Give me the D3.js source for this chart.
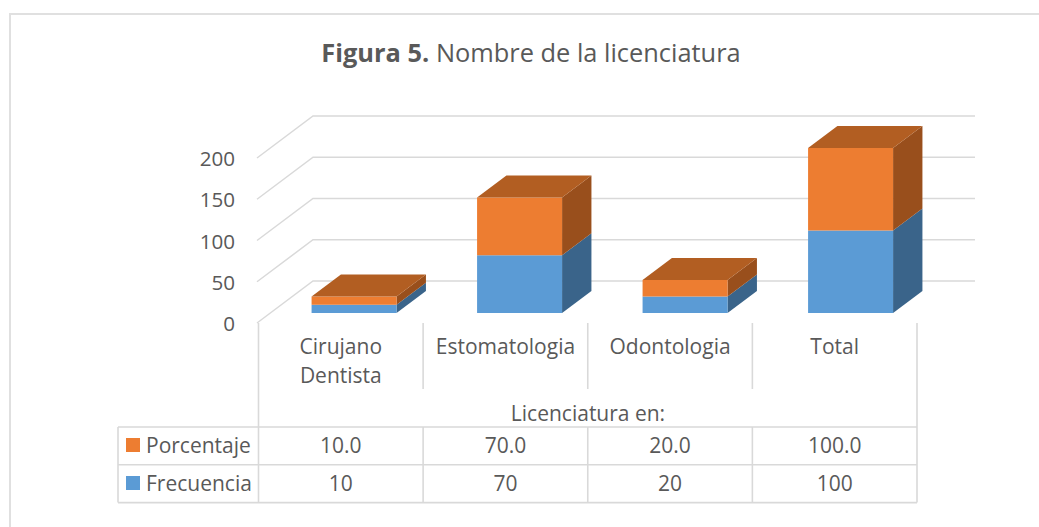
<!DOCTYPE html>
<html>
<head>
<meta charset="utf-8">
<script src="https://cdn.jsdelivr.net/npm/d3@7"></script>
<style>
body { margin: 0; background: #fff; }
text { font-family: "Open Sans", "Lato", sans-serif; fill: #595959; }
</style>
</head>
<body>
<div id="chart"></div>
<script>
var categories = ["Cirujano Dentista", "Estomatologia", "Odontologia", "Total"];
var categoryLines = [["Cirujano", "Dentista"], ["Estomatologia"], ["Odontologia"], ["Total"]];
var frecuencia = [10, 70, 20, 100];
var porcentaje = [10.0, 70.0, 20.0, 100.0];
var yTicks = [0, 50, 100, 150, 200];

var colors = {
    Frecuencia: { front: "#5b9bd5", side: "#3a648a" },
    Porcentaje: { front: "#ed7d31", top: "#b25e22", side: "#994f1c" },
};

var width = 1039,
    height = 527;
var labelSize = "21px";

var svg = d3
    .select("#chart")
    .append("svg")
    .style("display", "block")
    .attr("width", width)
    .attr("height", height);

// chart border, cut off by the screenshot on the right and bottom
svg.append("path")
    .attr("fill", "none")
    .attr("stroke", "#e0e0e0")
    .attr("stroke-width", 2)
    .attr("d", d3.line()([[10, height], [10, 14], [width, 14]]));

svg.append("text")
    .attr("x", 531)
    .attr("y", 61.5)
    .attr("text-anchor", "middle")
    .style("font-size", "25.4px")
    .call((t) => {
        t.append("tspan").style("font-weight", "bold").text("Figura 5.");
        t.append("tspan").text(" Nombre de la licenciatura");
    });

// ticks and table use x, the boxes sit on a slightly wider band
var x = d3.scaleBand().domain(categories).range([258.5, 917]);
var barX = d3.scaleBand().domain(categories).range([258, 920]);
var y = d3.scaleLinear().domain([0, 200]).range([323, 158]);

// depth of the 3d floor, z runs 0 (front) to 1 (back)
var depthX = 56,
    depthY = -42;
var barZ0 = 0.238,
    barZ1 = 0.762;
var barWidth = 85;

function px(xValue, z) {
    return xValue + z * depthX;
}
function py(v, z) {
    return y(v) + z * depthY;
}

var gridColor = "#d9d9d9";

// walls
var grid = svg.append("g").attr("fill", "none").attr("stroke", gridColor).attr("stroke-width", 1.5);
yTicks.forEach((t) => {
    grid.append("path").attr(
        "d",
        d3.line()([
            [px(257, 0), py(t, 0)],
            [px(257, 1), py(t, 1)],
            [px(919, 1), py(t, 1)],
        ])
    );
});

svg.selectAll(".y-label")
    .data(yTicks)
    .enter()
    .append("text")
    .attr("class", "y-label")
    .attr("x", 235)
    .attr("y", (d) => y(d) + 8)
    .attr("text-anchor", "end")
    .style("font-size", "20.6px")
    .text((d) => d);

// stacked boxes
categories.forEach((c, i) => {
    var left = barX(c) + (barX.bandwidth() - barWidth) / 2;
    var right = left + barWidth;
    var stack = [
        { name: "Frecuencia", v0: 0, v1: frecuencia[i] },
        { name: "Porcentaje", v0: frecuencia[i], v1: frecuencia[i] + porcentaje[i] },
    ];
    stack.forEach((s) => {
        var col = colors[s.name];
        svg.append("path")
            .attr("fill", col.side)
            .attr(
                "d",
                d3.line()([
                    [px(right, barZ0), py(s.v0, barZ0)],
                    [px(right, barZ1), py(s.v0, barZ1)],
                    [px(right, barZ1), py(s.v1, barZ1)],
                    [px(right, barZ0), py(s.v1, barZ0)],
                ])
            );
        svg.append("rect")
            .attr("x", px(left, barZ0))
            .attr("y", py(s.v1, barZ0))
            .attr("width", right - left)
            .attr("height", py(s.v0, barZ0) - py(s.v1, barZ0))
            .attr("fill", col.front);
        if (s.name == "Porcentaje") {
            svg.append("path")
                .attr("fill", col.top)
                .attr(
                    "d",
                    d3.line()([
                        [px(left, barZ0), py(s.v1, barZ0)],
                        [px(left, barZ1), py(s.v1, barZ1)],
                        [px(right, barZ1), py(s.v1, barZ1)],
                        [px(right, barZ0), py(s.v1, barZ0)],
                    ])
                );
        }
    });
});

// data table under the chart
var tableLeft = 118,
    tableTop = 427,
    rowH = 37.8;
var lines = svg.append("g").attr("stroke", gridColor).attr("stroke-width", 1.6);
var edges = x.domain().map((c) => x(c)).concat([x.range()[1]]);
edges.forEach((e, i) => {
    lines.append("line").attr("x1", e).attr("x2", e).attr("y1", y(0)).attr("y2", i == 0 || i == 4 ? tableTop : 389);
    lines.append("line").attr("x1", e).attr("x2", e).attr("y1", tableTop).attr("y2", tableTop + 2 * rowH);
});
lines.append("line").attr("x1", tableLeft).attr("x2", tableLeft).attr("y1", tableTop).attr("y2", tableTop + 2 * rowH);
[0, 1, 2].forEach((r) => {
    lines.append("line")
        .attr("x1", tableLeft)
        .attr("x2", x.range()[1])
        .attr("y1", tableTop + r * rowH)
        .attr("y2", tableTop + r * rowH);
});

categories.forEach((c, i) => {
    var cx = x(c) + x.bandwidth() / 2;
    categoryLines[i].forEach((l, j) => {
        svg.append("text")
            .attr("x", cx)
            .attr("y", 354 + j * 29)
            .attr("text-anchor", "middle")
            .style("font-size", labelSize)
            .text(l);
    });
    svg.append("text")
        .attr("x", cx)
        .attr("y", 452.5)
        .attr("text-anchor", "middle")
        .style("font-size", labelSize)
        .text(porcentaje[i].toFixed(1));
    svg.append("text")
        .attr("x", cx)
        .attr("y", 490.5)
        .attr("text-anchor", "middle")
        .style("font-size", labelSize)
        .text(frecuencia[i]);
});

svg.append("text")
    .attr("x", 588)
    .attr("y", 421)
    .attr("text-anchor", "middle")
    .style("font-size", labelSize)
    .text("Licenciatura en:");

["Porcentaje", "Frecuencia"].forEach((name, r) => {
    svg.append("rect")
        .attr("x", 126)
        .attr("y", tableTop + 11 + r * 38)
        .attr("width", 14)
        .attr("height", 14)
        .attr("fill", colors[name].front);
    svg.append("text")
        .attr("x", 146)
        .attr("y", 452.5 + r * 38)
        .style("font-size", labelSize)
        .text(name);
});
</script>
</body>
</html>
